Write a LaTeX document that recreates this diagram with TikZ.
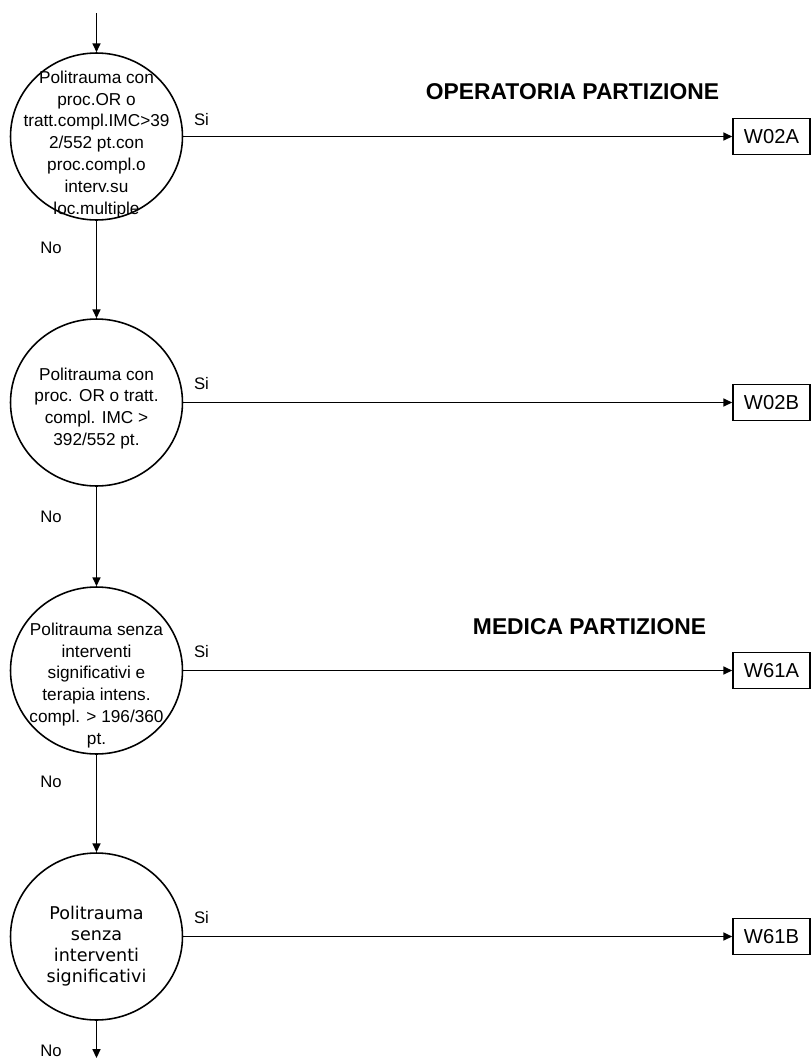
\documentclass[tikz,border=0pt]{standalone}
\usepackage{fontspec}
\setmainfont{Liberation Sans}
\newfontfamily\dejavu{DejaVu Sans}
\usetikzlibrary{shapes.geometric, arrows.meta, positioning}

\begin{document}
\begin{tikzpicture}[
  x=0.02cm, y=-0.02cm,
  cond/.style={draw, ellipse, line width=0.9pt, minimum width=3.44cm, minimum height=3.34cm, inner sep=0pt},
  condtext/.style={align=center, font=\fontsize{9.8}{12.5}\selectfont, inner sep=0pt},
  box/.style={draw, line width=0.9pt, minimum width=1.54cm, minimum height=0.72cm, inner sep=0pt, font=\fontsize{11.5}{13}\selectfont},
  arr/.style={-{Triangle[length=5pt, width=4.5pt]}, line width=0.9pt},
  lbl/.style={font=\fontsize{9.5}{11}\selectfont, inner sep=0pt},
  title/.style={font=\fontsize{13}{15}\selectfont\bfseries}
]
  \useasboundingbox (0,0) rectangle (811,1059);

  \coordinate (start) at (96.5,13);
  \coordinate (end) at (96.5,1058);

  \node[cond, label={[condtext, yshift=-0.16cm]center:{Politrauma con\\proc.OR o\\tratt.compl.IMC>39\\2/552 pt.con\\proc.compl.o\\interv.su\\loc.multiple}}] (c1) at (96.5,136.5) {};
  \node[cond, label={[condtext, yshift=-0.12cm]center:{Politrauma con\\proc. OR o tratt.\\compl. IMC >\\392/552 pt.}}] (c2) at (96.5,402.5) {};
  \node[cond, label={[condtext, yshift=-0.30cm]center:{Politrauma senza\\interventi\\significativi e\\terapia intens.\\compl. > 196/360\\pt.}}] (c3) at (96.5,670.5) {};
  \node[cond, label={[condtext, font=\dejavu\fontsize{10}{12}\selectfont, yshift=-0.20cm]center:{Politrauma\\senza\\interventi\\significativi}}] (c4) at (96.5,936.5) {};

  \node[box] (w02a) at (771.5,136.5) {W02A};
  \node[box] (w02b) at (771.5,402.5) {W02B};
  \node[box] (w61a) at (771.5,670.5) {W61A};
  \node[box] (w61b) at (771.5,936.5) {W61B};

  \node[title] (operatoria) at (572.5,92) {OPERATORIA PARTIZIONE};
  \node[title] (medica) at (589.5,627) {MEDICA PARTIZIONE};

  \draw[arr] (start) -- (c1.north);
  \draw[arr] (c1.south) -- node[lbl, pos=0.28, left=0.68cm] {No} (c2.north);
  \draw[arr] (c2.south) -- node[lbl, pos=0.30, left=0.68cm] {No} (c3.north);
  \draw[arr] (c3.south) -- node[lbl, pos=0.28, left=0.68cm] {No} (c4.north);
  \draw[arr] (c4.south) -- node[lbl, pos=0.81, left=0.68cm] {No} (end);

  \draw[arr] (c1.east) -- node[lbl, pos=0, anchor=south west, xshift=0.2cm, yshift=0.2cm] {Si} (w02a.west);
  \draw[arr] (c2.east) -- node[lbl, pos=0, anchor=south west, xshift=0.2cm, yshift=0.24cm] {Si} (w02b.west);
  \draw[arr] (c3.east) -- node[lbl, pos=0, anchor=south west, xshift=0.2cm, yshift=0.24cm] {Si} (w61a.west);
  \draw[arr] (c4.east) -- node[lbl, pos=0, anchor=south west, xshift=0.2cm, yshift=0.24cm] {Si} (w61b.west);
\end{tikzpicture}
\end{document}
